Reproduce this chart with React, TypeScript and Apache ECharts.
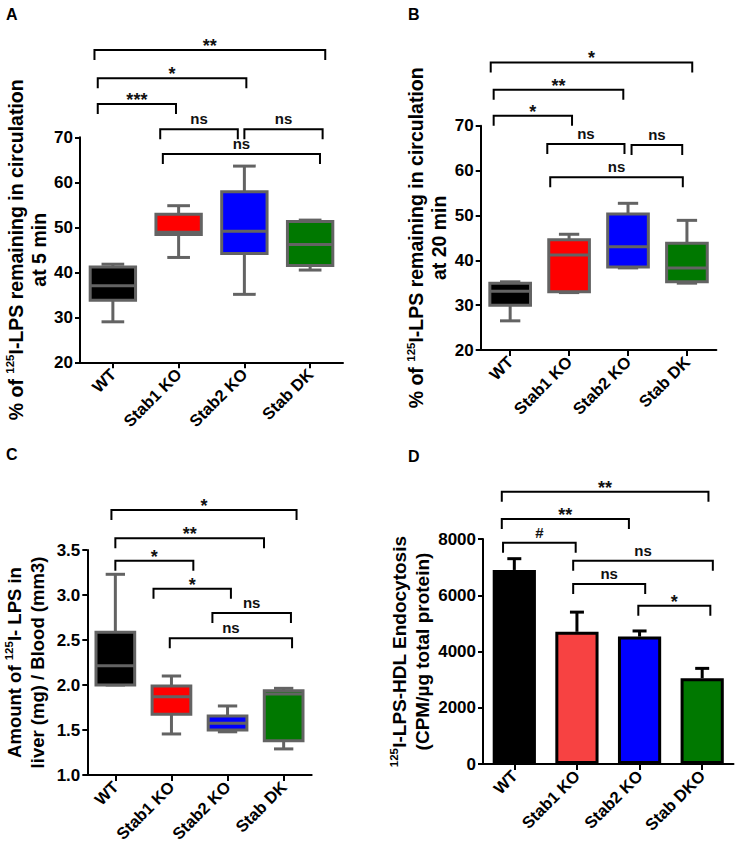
import React, { useEffect, useRef } from "react";
import * as echarts from "echarts";

const FONT = "'Liberation Sans', Arial, Helvetica, sans-serif";

const categoriesABC = ["WT", "Stab1 KO", "Stab2 KO", "Stab DK"];
const categoriesD = ["WT", "Stab1 KO", "Stab2 KO", "Stab DKO"];

const boxColors = ["#000000", "#ff0000", "#0000ff", "#007800"];
const barColors = ["#000000", "#f74242", "#0000ff", "#007800"];

// [min, Q1, median, Q3, max]
const boxA = [
  [29.0, 33.8, 37.0, 41.2, 41.8],
  [43.3, 48.4, 48.9, 52.9, 54.8],
  [35.1, 44.2, 49.1, 57.9, 63.6],
  [40.5, 41.5, 46.2, 51.3, 51.6],
];
const boxB = [
  [26.5, 30.0, 33.1, 34.9, 35.2],
  [32.8, 33.0, 41.2, 44.6, 45.8],
  [38.3, 38.5, 43.0, 50.3, 52.7],
  [34.9, 35.2, 38.3, 43.8, 48.9],
];
const boxC = [
  [2.0, 2.0, 2.215, 2.585, 3.23],
  [1.456, 1.674, 1.87, 1.99, 2.1],
  [1.48, 1.5, 1.574, 1.656, 1.767],
  [1.29, 1.38, 1.9, 1.937, 1.963],
];

const meanD = [6900, 4700, 4530, 3050];
const semD = [400, 700, 200, 350];

// [from category, to category, level (data units), label]
const bracketsA: [number, number, number, string][] = [
  [-0.28, 3.23, 89.4, "**"],
  [-0.23, 2.03, 83.1, "*"],
  [-0.23, 0.96, 77.4, "***"],
  [0.72, 1.9, 71.8, "ns"],
  [2.0, 3.19, 71.8, "ns"],
  [0.76, 3.15, 66.3, "ns"],
];
const bracketsB: [number, number, number, string][] = [
  [-0.33, 3.09, 84.1, "*"],
  [-0.28, 1.92, 78.0, "**"],
  [-0.28, 1.05, 72.2, "*"],
  [0.63, 1.94, 65.9, "ns"],
  [2.06, 2.92, 65.7, "ns"],
  [0.68, 2.93, 58.5, "ns"],
];
const bracketsC: [number, number, number, string][] = [
  [-0.07, 3.23, 3.944, "*"],
  [0.0, 2.65, 3.63, "**"],
  [0.0, 1.39, 3.38, "*"],
  [0.68, 2.06, 3.07, "*"],
  [1.73, 3.13, 2.8, "ns"],
  [0.97, 3.15, 2.52, "ns"],
];
const bracketsD: [number, number, number, string][] = [
  [-0.2, 3.1, 9683, "**"],
  [-0.2, 1.83, 8711, "**"],
  [-0.18, 0.98, 7870, "#"],
  [0.94, 3.17, 7230, "ns"],
  [0.94, 2.09, 6400, "ns"],
  [1.98, 3.13, 5630, "*"],
];

const titleA = "% of {sup|125}I-LPS remaining in circulation\nat 5 min";
const titleB = "% of {sup|125}I-LPS remaining in circulation\nat 20 min";
const titleC = "Amount of {sup|125}I- LPS in\nliver (mg) / Blood (mm3)";
const titleD = "{sup|125}I-LPS-HDL Endocytosis\n(CPM/µg total protein)";

const BOX_GRAY = "#636363";
const DROP = 10;

function boxSeries(idx: number, data: number[][]) {
  return {
    type: "custom",
    xAxisIndex: idx,
    yAxisIndex: idx,
    silent: true,
    data: data.map((d, i) => [i, ...d]),
    encode: { x: 0, y: [1, 2, 3, 4, 5] },
    renderItem: (params: any, api: any) => {
      const i = api.value(0);
      const pMin = api.coord([i, api.value(1)]);
      const pQ1 = api.coord([i, api.value(2)]);
      const pMed = api.coord([i, api.value(3)]);
      const pQ3 = api.coord([i, api.value(4)]);
      const pMax = api.coord([i, api.value(5)]);
      const band = api.size([1, 0])[0];
      const w = band * 0.69;
      const cx = pMin[0];
      const cap = w / 2;
      const st = { stroke: BOX_GRAY, lineWidth: 3 };
      return {
        type: "group",
        children: [
          { type: "line", shape: { x1: cx, y1: pMax[1], x2: cx, y2: pQ3[1] }, style: st },
          { type: "line", shape: { x1: cx, y1: pQ1[1], x2: cx, y2: pMin[1] }, style: st },
          { type: "line", shape: { x1: cx - cap / 2, y1: pMax[1], x2: cx + cap / 2, y2: pMax[1] }, style: st },
          { type: "line", shape: { x1: cx - cap / 2, y1: pMin[1], x2: cx + cap / 2, y2: pMin[1] }, style: st },
          {
            type: "rect",
            shape: { x: cx - w / 2, y: pQ3[1], width: w, height: pQ1[1] - pQ3[1] },
            style: { fill: boxColors[i], stroke: BOX_GRAY, lineWidth: 3 },
          },
          { type: "line", shape: { x1: cx - w / 2, y1: pMed[1], x2: cx + w / 2, y2: pMed[1] }, style: st },
        ],
      };
    },
  };
}

function bracketSeries(idx: number, list: [number, number, number, string][]) {
  return {
    type: "custom",
    xAxisIndex: idx,
    yAxisIndex: idx,
    silent: true,
    clip: false,
    z: 5,
    data: list.map((b) => [0, b[2]]),
    encode: { x: 0, y: 1 },
    renderItem: (params: any, api: any) => {
      const b = list[params.dataIndex];
      const p = api.coord([0, api.value(1)]);
      const band = api.size([1, 0])[0];
      const x1 = p[0] + b[0] * band;
      const x2 = p[0] + b[1] * band;
      const y = p[1];
      const isStar = b[3].indexOf("*") >= 0;
      return {
        type: "group",
        children: [
          {
            type: "polyline",
            shape: { points: [[x1, y + DROP], [x1, y], [x2, y], [x2, y + DROP]] },
            style: { stroke: "#000", lineWidth: 2, fill: null },
          },
          {
            type: "text",
            x: (x1 + x2) / 2,
            y: isStar ? y + 5 : y - 3,
            style: {
              text: b[3],
              align: "center",
              verticalAlign: "bottom",
              fontSize: isStar ? 18 : 15,
              fontWeight: "bold",
              fontFamily: FONT,
              fill: "#111",
            },
          },
        ],
      };
    },
  };
}

function errorSeries(idx: number) {
  return {
    type: "custom",
    xAxisIndex: idx,
    yAxisIndex: idx,
    silent: true,
    z: 4,
    data: meanD.map((m, i) => [i, m, m + semD[i]]),
    encode: { x: 0, y: [1, 2] },
    renderItem: (params: any, api: any) => {
      const i = api.value(0);
      const p1 = api.coord([i, api.value(1)]);
      const p2 = api.coord([i, api.value(2)]);
      const st = { stroke: "#000", lineWidth: 3 };
      return {
        type: "group",
        children: [
          { type: "line", shape: { x1: p1[0], y1: p1[1], x2: p2[0], y2: p2[1] }, style: st },
          { type: "line", shape: { x1: p2[0] - 7, y1: p2[1], x2: p2[0] + 7, y2: p2[1] }, style: st },
        ],
      };
    },
  };
}

const axisLineStyle = { show: true, lineStyle: { color: "#000", width: 2 } };
const axisTickStyle = { show: true, length: 5, lineStyle: { color: "#000", width: 2 } };
const tickLabel = { color: "#000", fontSize: 17, fontWeight: "bold", fontFamily: FONT };

function xAxis(idx: number, cats: string[]) {
  return {
    type: "category",
    gridIndex: idx,
    data: cats,
    axisLine: axisLineStyle,
    axisTick: { ...axisTickStyle, alignWithLabel: true, length: 6 },
    axisLabel: { ...tickLabel, fontSize: 16.5, rotate: 45, margin: 9, interval: 0 },
    splitLine: { show: false },
  };
}

function yAxis(
  idx: number,
  min: number,
  max: number,
  interval: number,
  name: string,
  nameGap: number,
  titleSize: number,
  fmt: (v: number) => string
) {
  return {
    type: "value",
    gridIndex: idx,
    min,
    max,
    interval,
    axisLine: axisLineStyle,
    axisTick: axisTickStyle,
    axisLabel: { ...tickLabel, margin: 7, formatter: fmt },
    splitLine: { show: false },
    name,
    nameLocation: "middle",
    nameRotate: 90,
    nameGap,
    nameTextStyle: {
      color: "#000",
      fontSize: titleSize,
      fontWeight: "bold",
      fontFamily: FONT,
      lineHeight: 23,
      rich: {
        sup: { fontSize: 11.5, fontWeight: "bold", fontFamily: FONT, color: "#000", verticalAlign: "top", lineHeight: 12 },
      },
    },
  };
}

function panelLetter(text: string, left: number, top: number) {
  return {
    type: "text",
    left,
    top,
    style: { text, fontSize: 16, fontWeight: "bold", fontFamily: FONT, fill: "#000" },
  };
}

const plain = (v: number) => String(v);
const oneDecimal = (v: number) => v.toFixed(1);

export default function App() {
  const ref = useRef<HTMLDivElement>(null);
  useEffect(() => {
    if (!ref.current) return;
    const chart = echarts.init(ref.current, undefined, { renderer: "svg" });
    const option: any = {
      animation: false,
      backgroundColor: "#ffffff",
      grid: [
        { left: 80, top: 137.3, width: 263, height: 225, outerBoundsMode: "none" },
        { left: 480.7, top: 125.7, width: 235.7, height: 224.3, outerBoundsMode: "none" },
        { left: 87.3, top: 550, width: 224.4, height: 225, outerBoundsMode: "none" },
        { left: 483, top: 539, width: 250.5, height: 225, outerBoundsMode: "none" },
      ],
      xAxis: [xAxis(0, categoriesABC), xAxis(1, categoriesABC), xAxis(2, categoriesABC), xAxis(3, categoriesD)],
      yAxis: [
        yAxis(0, 20, 70, 10, titleA, 29, 19.5, plain),
        yAxis(1, 20, 70, 10, titleB, 30, 19.5, plain),
        yAxis(2, 1.0, 3.5, 0.5, titleC, 38, 18.5, oneDecimal),
        yAxis(3, 0, 8000, 2000, titleD, 46, 19, plain),
      ],
      graphic: [
        panelLetter("A", 6, 6),
        panelLetter("B", 408, 6),
        panelLetter("C", 6, 446),
        panelLetter("D", 408, 448),
      ],
      series: [
        boxSeries(0, boxA),
        boxSeries(1, boxB),
        boxSeries(2, boxC),
        {
          type: "bar",
          xAxisIndex: 3,
          yAxisIndex: 3,
          barWidth: "69%",
          silent: true,
          data: meanD.map((v, i) => ({ value: v, itemStyle: { color: barColors[i] } })),
          itemStyle: { borderColor: "#000", borderWidth: 3 },
        },
        errorSeries(3),
        bracketSeries(0, bracketsA),
        bracketSeries(1, bracketsB),
        bracketSeries(2, bracketsC),
        bracketSeries(3, bracketsD),
      ],
    };
    chart.setOption(option);
    return () => chart.dispose();
  }, []);
  return (
    <div
      ref={ref}
      style={{ position: "absolute", left: 0, top: 0, width: 736, height: 850, background: "#fff" }}
    />
  );
}
